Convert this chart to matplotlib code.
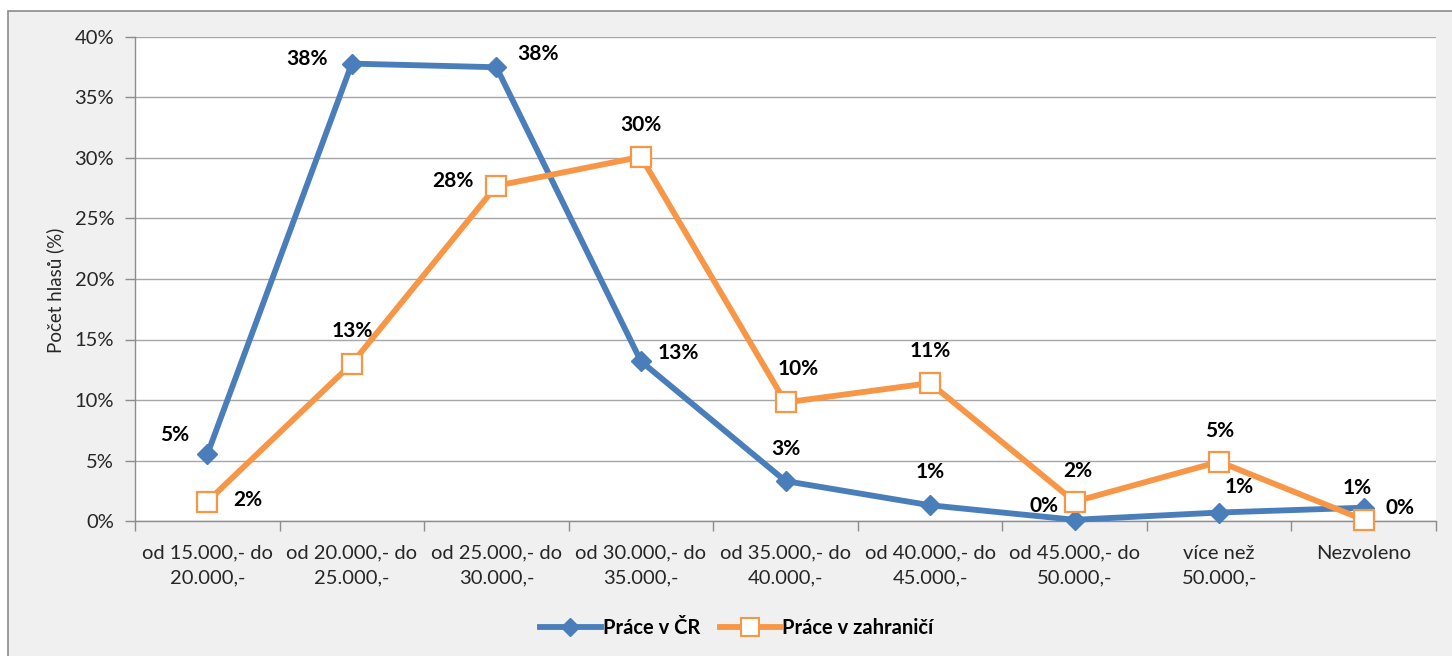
import matplotlib
matplotlib.use("Agg")
import matplotlib.pyplot as plt
from matplotlib.patches import Rectangle
from matplotlib.lines import Line2D

categories = ["od 15.000,- do\n20.000,-", "od 20.000,- do\n25.000,-", "od 25.000,- do\n30.000,-",
              "od 30.000,- do\n35.000,-", "od 35.000,- do\n40.000,-", "od 40.000,- do\n45.000,-",
              "od 45.000,- do\n50.000,-", "více než\n50.000,-", "Nezvoleno"]
cr_values = [5.5, 37.8, 37.5, 13.2, 3.3, 1.3, 0.1, 0.7, 1.1]
abroad_values = [1.6, 13.0, 27.7, 30.1, 9.8, 11.4, 1.6, 4.9, 0.1]
cr_labels = ["5%", "38%", "38%", "13%", "3%", "1%", "0%", "1%", "1%"]
abroad_labels = ["2%", "13%", "28%", "30%", "10%", "11%", "2%", "5%", "0%"]
series_names = ["Práce v ČR", "Práce v zahraničí"]
y_ticks = [0, 5, 10, 15, 20, 25, 30, 35, 40]

# label offsets in pixels (style)
cr_off = [(-33, 19), (-45, 5), (42, 13), (37, 8), (0, 32), (0, 33), (-31, 14), (20, 26), (-7, 20)]
ab_off = [(41, 2), (0, 33), (-43, 5), (0, 32), (13, 33), (0, 32), (3, 31), (0, 31), (36, 12)]

plt.rcParams['font.family'] = ['Lato', 'DejaVu Sans']
BLUE = "#4a7ebb"
ORANGE = "#f79646"
TXT = "#262626"
FS = 14.5

W, H = 1452, 656
fig = plt.figure(figsize=(W / 100, H / 100), dpi=100, facecolor="white")
bg = Rectangle((8 / W, -0.1), 1.2, (H - 11) / H + 0.1, transform=fig.transFigure,
               facecolor="#f0f0f0", edgecolor="#8c8c8c", linewidth=1.2, zorder=-10)
fig.patches.append(bg)

ax = fig.add_axes([135 / W, 1 - 521 / H, (1436 - 135) / W, (521 - 37) / H])
ax.set_zorder(1)
ax.set_facecolor("white")
x = list(range(len(categories)))

ax.plot(x, cr_values, color=BLUE, linewidth=4.2, marker="D", markersize=10,
        markerfacecolor=BLUE, markeredgecolor=BLUE, zorder=3, clip_on=False)
ax.plot(x, abroad_values, color=ORANGE, linewidth=4.2, marker="s", markersize=14.5,
        markerfacecolor="white", markeredgecolor=ORANGE, markeredgewidth=1.6, zorder=4, clip_on=False)

for xi, v, lab, (dx, dy) in zip(x, cr_values, cr_labels, cr_off):
    ax.annotate(lab, (xi, v), xytext=(dx, dy), textcoords="offset pixels", ha="center", va="center",
                fontsize=15, fontweight="bold", color="black", zorder=6)
for xi, v, lab, (dx, dy) in zip(x, abroad_values, abroad_labels, ab_off):
    ax.annotate(lab, (xi, v), xytext=(dx, dy), textcoords="offset pixels", ha="center", va="center",
                fontsize=15, fontweight="bold", color="black", zorder=6)

ax.set_xlim(-0.5, len(categories) - 0.5)
ax.set_ylim(0, 40)
ax.set_yticks(y_ticks)
ax.set_yticklabels([f"{t}%" for t in y_ticks])
ax.yaxis.grid(True, color="#a6a6a6", linewidth=1.0)
ax.set_axisbelow(True)

ax.set_xticks([i - 0.5 for i in range(len(categories) + 1)])
ax.set_xticklabels([])
ax.set_xticks(x, minor=True)
ax.set_xticklabels(categories, minor=True, fontsize=FS, color=TXT, linespacing=1.55)
ax.tick_params(axis="x", which="major", length=7, color="#8c8c8c", width=1)
ax.tick_params(axis="x", which="minor", length=0, pad=17)
ax.tick_params(axis="y", length=7, color="#8c8c8c", width=1, labelsize=FS, labelcolor=TXT, pad=8)

for s in ["top", "right"]:
    ax.spines[s].set_visible(False)
for s in ["left", "bottom"]:
    ax.spines[s].set_color("#8c8c8c")
    ax.spines[s].set_linewidth(1)

ax.set_ylabel("Počet hlasů (%)", fontsize=13.5, color=TXT)
ax.yaxis.set_label_coords((64 - 135) / 1301, (521 - 290) / 484)

handles = [Line2D([], [], color=BLUE, linewidth=4.2, marker="D", markersize=9,
                  markerfacecolor=BLUE, markeredgecolor=BLUE),
           Line2D([], [], color=ORANGE, linewidth=4.2, marker="s", markersize=13,
                  markerfacecolor="white", markeredgecolor=ORANGE, markeredgewidth=1.5)]
fig.legend(handles, series_names, loc="center", bbox_to_anchor=(737 / W, 1 - 628 / H), ncol=2,
           frameon=False, prop={"weight": "bold", "size": FS}, handlelength=3.0,
           handletextpad=0.1, columnspacing=1.0)

fig.savefig("out.png", dpi=100, facecolor=fig.get_facecolor())
